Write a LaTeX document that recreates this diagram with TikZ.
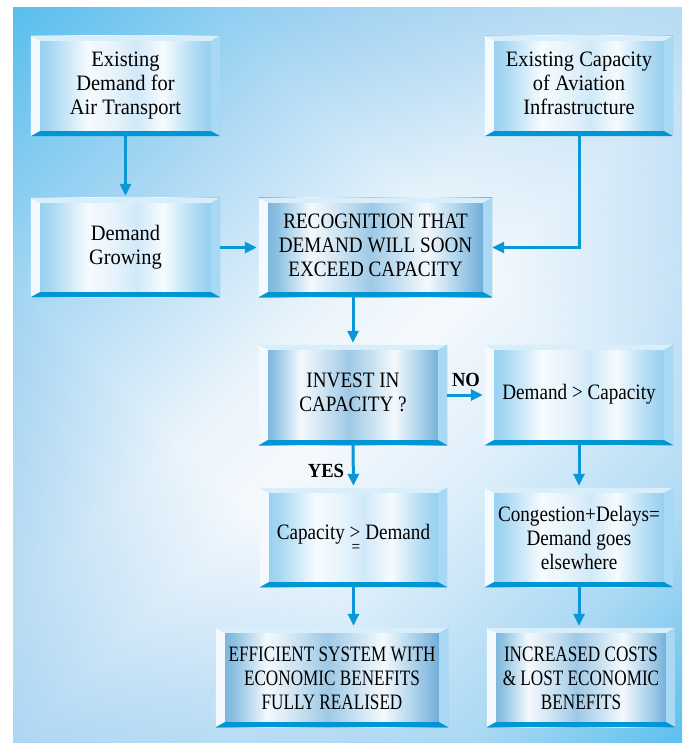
\documentclass[tikz,border=0pt]{standalone}
\usepackage{fontspec}
\usepackage{graphicx}
\usetikzlibrary{arrows.meta}
\setmainfont{Liberation Serif}
\newfontfamily\fa[FakeStretch=0.93]{Liberation Serif}
\newfontfamily\fb[FakeStretch=0.87]{Liberation Serif}
\newfontfamily\fc[FakeStretch=0.78]{Liberation Serif}

\definecolor{bgA}{HTML}{5BBFEE}
\definecolor{bgB}{HTML}{A8D7F3}
\definecolor{bgC}{HTML}{EAF4FB}
\definecolor{bgD}{HTML}{F5F9FD}
\definecolor{bgE}{HTML}{DCEEFA}
\definecolor{bgF}{HTML}{A9D8F3}
\definecolor{bgG}{HTML}{5FC1EE}
\definecolor{bxA}{HTML}{B6DDF5}
\definecolor{bxB}{HTML}{C4E4F7}

\definecolor{lA}{HTML}{8ECCEE}
\definecolor{lB}{HTML}{A6D7F3}
\definecolor{lC}{HTML}{F6FBFE}
\definecolor{lD}{HTML}{E6F3FB}
\definecolor{lE}{HTML}{D0E9F8}
\definecolor{lF}{HTML}{B2DCF4}
\definecolor{lG}{HTML}{88C8ED}

\definecolor{dA}{HTML}{6EA9D3}
\definecolor{dB}{HTML}{8DC1E2}
\definecolor{dC}{HTML}{F4F9FD}
\definecolor{dD}{HTML}{CFE4F3}
\definecolor{dE}{HTML}{9EC9E6}
\definecolor{dF}{HTML}{C7E1F2}
\definecolor{dG}{HTML}{A8D0EA}
\definecolor{dH}{HTML}{72ADD7}

\definecolor{bvtop}{HTML}{D8EEFA}
\definecolor{bvleft}{HTML}{F3F9FE}
\definecolor{bvright}{HTML}{A8D8F3}
\definecolor{bvbot}{HTML}{0096D6}
\definecolor{arrowblue}{HTML}{0A97D7}

\pgfdeclarehorizontalshading{bgmain}{100bp}{color(0bp)=(bgA); color(15bp)=(bgA); color(30bp)=(bgB); color(45bp)=(bgC); color(52bp)=(bgD); color(62bp)=(bgE); color(75bp)=(bgF); color(85bp)=(bgG); color(100bp)=(bgG)}
\pgfdeclarehorizontalshading{bgcross}{100bp}{color(0bp)=(bxA); color(15bp)=(bxA); color(38bp)=(white); color(62bp)=(white); color(85bp)=(bxB); color(100bp)=(bxB)}
\pgfdeclarehorizontalshading{boxlight}{100bp}{color(0bp)=(lA); color(25bp)=(lA); color(30bp)=(lB); color(40bp)=(lC); color(47bp)=(lD); color(53bp)=(lE); color(60bp)=(lC); color(68bp)=(lF); color(75bp)=(lG); color(100bp)=(lG)}
\pgfdeclarehorizontalshading{boxdark}{100bp}{color(0bp)=(dA); color(25bp)=(dA); color(29bp)=(dB); color(36bp)=(dC); color(42bp)=(dD); color(49bp)=(dE); color(55bp)=(dF); color(61bp)=(dC); color(68bp)=(dG); color(73bp)=(dH); color(75bp)=(dA); color(100bp)=(dA)}

\newcommand\bevelbox[1]{%
  \fill[bvtop] (#1.north west) -- (#1.north east) -- ([shift={(-9,5)}]#1.north east) -- ([shift={(9,5)}]#1.north west) -- cycle;
  \fill[bvleft] (#1.north west) -- ([shift={(9,5)}]#1.north west) -- ([shift={(9,-5)}]#1.south west) -- (#1.south west) -- cycle;
  \fill[bvright] (#1.north east) -- ([shift={(-9,5)}]#1.north east) -- ([shift={(-9,-5)}]#1.south east) -- (#1.south east) -- cycle;
  \fill[bvbot] (#1.south west) -- (#1.south east) -- ([shift={(-9,-5)}]#1.south east) -- ([shift={(9,-5)}]#1.south west) -- cycle;
}
\newcommand\tallstrut{\rule{0pt}{23.5pt}}

\begin{document}
\begin{tikzpicture}[x=1pt,y=-1pt,
  lbox/.style={rectangle, inner sep=0pt, shade, shading=boxlight, align=center, text=black, font=\fb\fontsize{22}{24}\selectfont},
  dbox/.style={lbox, shading=boxdark},
  arr/.style={draw=arrowblue, line width=3pt, -{Triangle[length=12pt,width=11pt]}, shorten >=2pt},
  lab/.style={font=\fa\bfseries\fontsize{20}{22}\selectfont, inner sep=0pt, text=black}]
\useasboundingbox (0,0) rectangle (682,743);
\shade[shading=bgmain, shading angle=-45] (13,8) rectangle (682,743);
\begin{scope}[blend mode=multiply]
\shade[shading=bgcross, shading angle=45] (13,8) rectangle (682,743);
\end{scope}

\node[lbox, font=\fa\fontsize{22}{24}\selectfont, minimum width=189pt, minimum height=100pt] (b1) at (125.5,86) {\strut Existing\\Demand for\\Air Transport\strut};
\node[lbox, font=\fa\fontsize{22}{24}\selectfont, minimum width=188pt, minimum height=100pt] (b2) at (579,86) {\strut Existing Capacity\\of Aviation\\Infrastructure\strut};
\node[lbox, font=\fa\fontsize{22}{24}\selectfont, minimum width=189pt, minimum height=99pt] (b3) at (125.5,247.5) {\strut Demand\\Growing\strut};
\node[dbox, minimum width=233pt, minimum height=99pt] (rec) at (375.5,247.5) {\strut RECOGNITION THAT\\DEMAND WILL SOON\\EXCEED CAPACITY\strut};
\node[dbox, minimum width=188pt, minimum height=100pt] (inv) at (353,395) {\strut INVEST IN\\CAPACITY ?\strut};
\node[lbox, minimum width=188pt, minimum height=100pt] (dgc) at (579,395) {\strut Demand > Capacity};
\node[lbox, minimum width=187pt, minimum height=99pt] (cap) at (353.5,537.5) {\strut Capacity \rlap{\kern2pt\raisebox{-0.62em}{\scalebox{0.8}{=}}}> Demand};
\node[lbox, minimum width=188pt, minimum height=99pt] (cong) at (579,537.5) {\tallstrut Congestion+Delays=\\Demand goes\\elsewhere\strut};
\node[dbox, font=\fc\fontsize{22}{24}\selectfont, minimum width=232pt, minimum height=99pt] (eff) at (332,677.5) {\tallstrut EFFICIENT SYSTEM WITH\\ECONOMIC BENEFITS\\FULLY REALISED\strut};
\node[dbox, font=\fc\fontsize{22}{24}\selectfont, minimum width=188pt, minimum height=99pt] (inc) at (581,677.5) {\tallstrut INCREASED COSTS\\\& LOST ECONOMIC\\BENEFITS\strut};

\foreach \n in {b1,b2,b3,rec,inv,dgc,cap,cong,eff,inc} {\bevelbox{\n}}

\draw[arr] (b1.south) -- (b3.north);
\draw[arr] (b3.east) -- (rec.west);
\draw[arr, shorten >=0pt] (b2.south) |- (rec.east);
\draw[arr] (rec.south -| inv.north) -- (inv.north);
\draw[arr] (inv.east) -- (dgc.west);
\draw[arr] (inv.south) -- (cap.north);
\draw[arr] (dgc.south) -- (dgc.south |- cong.north);
\draw[arr] (cap.south) -- (cap.south |- eff.north);
\draw[arr] (cong.south) -- (cong.south |- inc.north);

\node[lab] (no) at (466,380) {NO};
\node[lab] (yes) at (326,471) {YES};
\end{tikzpicture}
\end{document}
